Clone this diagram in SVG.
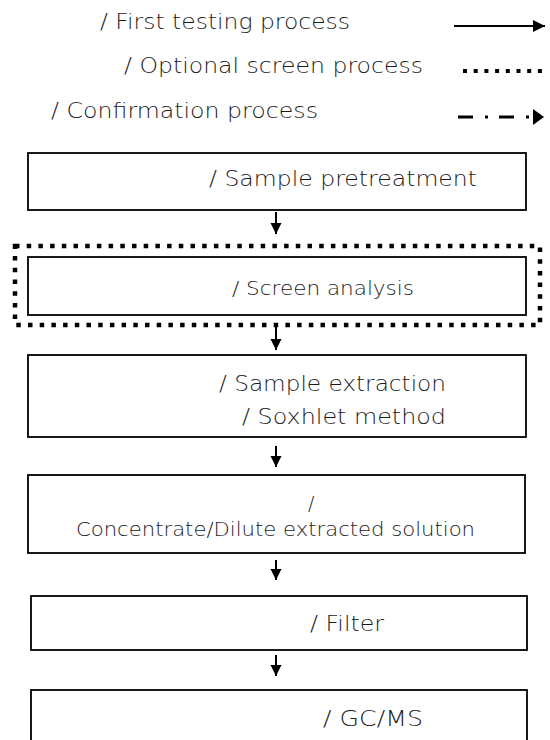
<svg xmlns="http://www.w3.org/2000/svg" width="550" height="740" viewBox="0 0 550 740">
  <style>
    .t { font-family: "DejaVu Sans", "Open Sans", sans-serif; font-weight: 200; fill: #1a1a1a; }
    .box { fill: #fff; stroke: #000; stroke-width: 1.8; }
    .conn { stroke: #000; stroke-width: 2; fill: none; }
  </style>
  <defs>
    <marker id="ah" viewBox="0 0 10 10" refX="10" refY="5" markerWidth="11" markerHeight="13" markerUnits="userSpaceOnUse" orient="auto">
      <path d="M0,0 L10,5 L0,10 Z" fill="#000"/>
    </marker>
    <marker id="ahl" viewBox="0 0 10 10" refX="10" refY="5" markerWidth="12" markerHeight="14" markerUnits="userSpaceOnUse" orient="auto">
      <path d="M0,0 L10,5 L0,10 Z" fill="#000"/>
    </marker>
  </defs>
  <rect width="550" height="740" fill="#fff"/>

  <g id="legend">
    <text class="t" x="100" y="29" font-size="22" textLength="250" lengthAdjust="spacingAndGlyphs">/ First testing process</text>
    <line x1="454" y1="26" x2="545" y2="26" stroke="#000" stroke-width="2" marker-end="url(#ahl)"/>
    <text class="t" x="124" y="73" font-size="22" textLength="299" lengthAdjust="spacingAndGlyphs">/ Optional screen process</text>
    <line x1="463" y1="71" x2="544" y2="71" stroke="#000" stroke-width="4" stroke-dasharray="4 6.7"/>
    <text class="t" x="51" y="118" font-size="22" textLength="267" lengthAdjust="spacingAndGlyphs">/ Confirmation process</text>
    <line x1="458" y1="117" x2="532" y2="117" stroke="#000" stroke-width="3" stroke-dasharray="15 12 3 11"/>
    <path d="M533,109 L544,117 L533,125 Z" fill="#000"/>
  </g>

  <g id="n1">
    <rect class="box" x="28" y="153" width="498" height="57"/>
    <text class="t" x="209" y="186" font-size="22" textLength="268" lengthAdjust="spacingAndGlyphs">/ Sample pretreatment</text>
  </g>

  <g id="n-screen-group">
    <rect x="15" y="246" width="525" height="79" fill="none" stroke="#000" stroke-width="4.5" stroke-dasharray="4.5 7.2"/>
  </g>

  <g id="n2">
    <rect class="box" x="28" y="257" width="498" height="58"/>
    <text class="t" x="232" y="295" font-size="19.5" textLength="182" lengthAdjust="spacingAndGlyphs">/ Screen analysis</text>
  </g>

  <g id="n3">
    <rect class="box" x="28" y="355" width="498" height="82"/>
    <text class="t" x="219" y="391" font-size="22" textLength="227" lengthAdjust="spacingAndGlyphs">/ Sample extraction</text>
    <text class="t" x="242" y="424" font-size="22" textLength="204" lengthAdjust="spacingAndGlyphs">/ Soxhlet method</text>
  </g>

  <g id="n4">
    <rect class="box" x="28" y="475" width="497" height="78"/>
    <text class="t" x="308" y="510" font-size="19">/</text>
    <text class="t" x="76" y="536" font-size="19" textLength="399" lengthAdjust="spacingAndGlyphs">Concentrate/Dilute extracted solution</text>
  </g>

  <g id="n5">
    <rect class="box" x="31" y="596" width="496" height="54" stroke-width="2.2"/>
    <text class="t" x="310" y="631" font-size="22" textLength="74" lengthAdjust="spacingAndGlyphs">/ Filter</text>
  </g>

  <g id="n6">
    <rect class="box" x="31" y="690" width="496" height="70" stroke-width="2.2"/>
    <text class="t" x="323" y="726" font-size="22" textLength="100" lengthAdjust="spacingAndGlyphs">/ GC/MS</text>
  </g>

  <g id="connectors">
    <line class="conn" x1="276" y1="212" x2="276" y2="234" marker-end="url(#ah)"/>
    <line class="conn" x1="276" y1="326" x2="276" y2="350" marker-end="url(#ah)"/>
    <line class="conn" x1="276" y1="446" x2="276" y2="467" marker-end="url(#ah)"/>
    <line class="conn" x1="276" y1="560" x2="276" y2="580" marker-end="url(#ah)"/>
    <line class="conn" x1="276" y1="655" x2="276" y2="676" marker-end="url(#ah)"/>
  </g>
</svg>
